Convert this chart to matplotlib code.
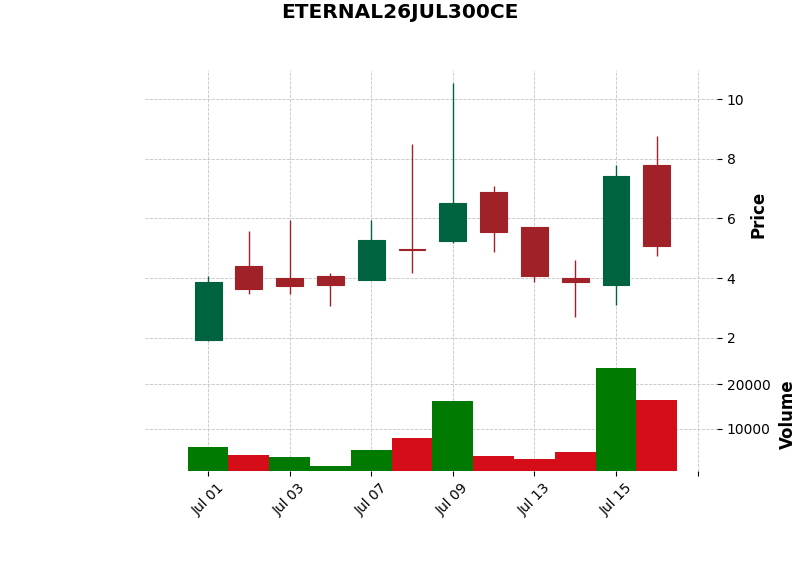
import matplotlib
matplotlib.use("Agg")
import matplotlib.pyplot as plt
import numpy as np

# OHLCV for ETERNAL26JUL300CE
dates = ["Jul 01", "Jul 02", "Jul 03", "Jul 06", "Jul 07", "Jul 08",
         "Jul 09", "Jul 10", "Jul 13", "Jul 14", "Jul 15", "Jul 16"]
opens = [1.93, 4.41, 4.01, 4.08, 3.93, 4.97, 5.23, 6.88, 5.71, 4.01, 3.77, 7.78]
highs = [4.08, 5.58, 5.94, 4.16, 5.94, 8.48, 10.54, 7.08, 5.71, 4.59, 7.79, 8.76]
lows = [1.88, 3.46, 3.46, 3.06, 3.93, 4.16, 5.19, 4.86, 3.86, 2.69, 3.08, 4.74]
closes = [3.88, 3.63, 3.73, 3.77, 5.28, 4.95, 6.50, 5.53, 4.07, 3.87, 7.41, 5.07]
volumes = [5960, 3970, 3530, 1550, 5080, 7950, 16110, 3750, 3090, 4630, 23620, 16330]

title = "ETERNAL26JUL300CE"

up_color = "#006340"
down_color = "#A02128"
vol_up = "#007a00"
vol_down = "#d50d18"
grid_color = "#c4c4c4"

x = np.arange(len(dates))
o = np.array(opens)
c = np.array(closes)

fig = plt.figure(figsize=(8, 5.75), dpi=100)
ax = fig.add_axes([0.181, 0.378, 0.715, 0.500])
axv = fig.add_axes([0.181, 0.181, 0.715, 0.197], sharex=ax)

# candles
candle_colors = [up_color if cl >= op else down_color for op, cl in zip(opens, closes)]
ax.vlines(x, lows, highs, colors=candle_colors, linewidth=1.0, zorder=2)
ax.bar(x, c - o, bottom=o, width=0.66, color=candle_colors,
       edgecolor=candle_colors, linewidth=0.8, zorder=3)

# volume, coloured by close vs previous close
vcolors = [vol_up]
for i in range(1, len(closes)):
    vcolors.append(vol_up if closes[i] >= closes[i - 1] else vol_down)
axv.bar(x, volumes, width=1.0, color=vcolors, linewidth=0, zorder=2)

ax.set_xlim(-1.55, 12.47)
ax.set_ylim(1.33, 10.97)
axv.set_ylim(0.3 * min(volumes), 1.1 * max(volumes))

ax.set_yticks([2, 4, 6, 8, 10])
axv.set_yticks([10000, 20000])

tick_pos = np.arange(0, len(dates) + 1, 2)
tick_labels = [dates[i] if i < len(dates) else "" for i in tick_pos]
axv.set_xticks(tick_pos)
axv.set_xticklabels(tick_labels, rotation=45, ha="center")

for a in (ax, axv):
    for s in a.spines.values():
        s.set_visible(False)
    a.yaxis.tick_right()
    a.yaxis.set_label_position("right")
    a.grid(True, linestyle="--", color=grid_color, linewidth=0.6, zorder=0)
    a.set_axisbelow(True)
    a.tick_params(axis="both", labelsize=10, length=3.5)

ax.tick_params(axis="x", labelbottom=False, length=0)

ax.set_ylabel("Price", fontsize=12, fontweight="bold")
axv.set_ylabel("Volume", fontsize=12, fontweight="bold", labelpad=6)

fig.suptitle(title, fontsize=14.5, fontweight="bold", y=0.995)

fig.savefig("out.png", dpi=100)
